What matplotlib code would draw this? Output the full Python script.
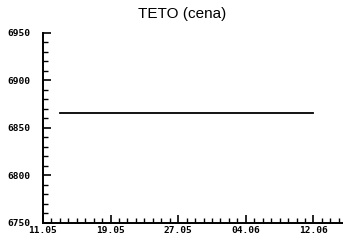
import matplotlib
matplotlib.use('Agg')
import matplotlib.pyplot as plt
from matplotlib.ticker import MultipleLocator
import numpy as np

# dni od 11.05 (0 = 11.05)
dni = list(range(2, 33))
cena = [6866, 6866, 6866, 6866, 6866, 6866, 6866, 6866, 6866, 6866,
        6866, 6866, 6866, 6866, 6866, 6866, 6866, 6866, 6866, 6866,
        6866, 6866, 6866, 6866, 6866, 6866, 6866, 6866, 6866, 6866, 6866]
etykiety_x = ['11.05', '19.05', '27.05', '04.06', '12.06']
pozycje_x = [0, 8, 16, 24, 32]
etykiety_y = [6750, 6800, 6850, 6900, 6950]

fig = plt.figure(figsize=(3.43, 2.40), dpi=100)
ax = fig.add_axes([0.125, 0.071, 0.875, 0.792])

ax.plot(dni, cena, color='black', linewidth=1.3)

ax.set_xlim(0, 35.5)
ax.set_ylim(6750, 6950)
ax.set_xticks(pozycje_x)
ax.set_xticklabels(etykiety_x)
ax.xaxis.set_minor_locator(MultipleLocator(1))
ax.set_yticks(etykiety_y)
ax.set_yticklabels([str(v) for v in etykiety_y])
ax.yaxis.set_minor_locator(MultipleLocator(10))

for s in ['top', 'right']:
    ax.spines[s].set_visible(False)
for s in ['left', 'bottom']:
    ax.spines[s].set_linewidth(1.4)

ax.tick_params(which='major', direction='in', length=6, width=1.2,
               labelsize=6.8, pad=3)
ax.tick_params(which='minor', direction='in', length=3.5, width=1.0)
ax.tick_params(axis='y', pad=9)
ax.tick_params(axis='x', pad=2)
for lab in ax.get_xticklabels() + ax.get_yticklabels():
    lab.set_family('DejaVu Sans Mono')
    lab.set_fontweight('bold')

fig.text(0.53, 0.94, 'TETO (cena)', ha='center', va='center',
         fontsize=11, family='Liberation Sans')

plt.savefig('out.png', dpi=100)
plt.close()
